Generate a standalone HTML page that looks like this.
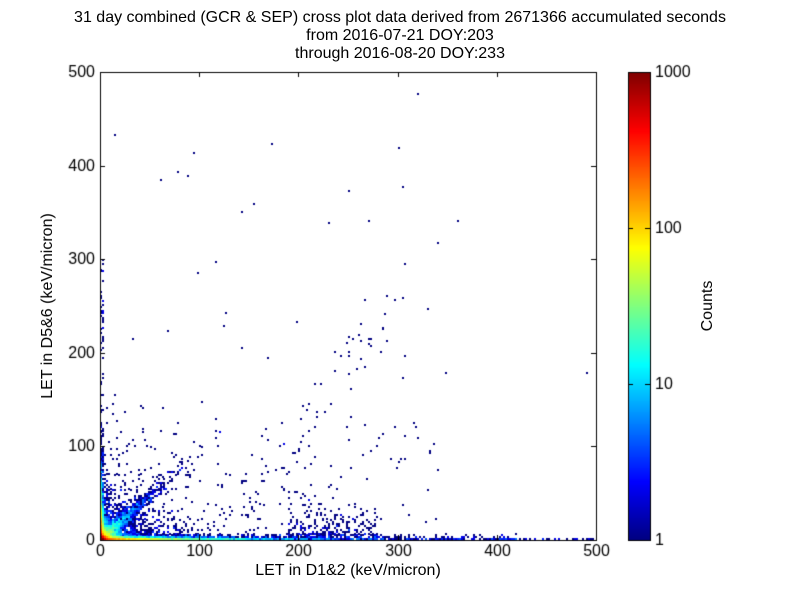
<!DOCTYPE html>
<html><head><meta charset="utf-8"><style>
body{margin:0;background:#fff;width:800px;height:600px;overflow:hidden;position:relative;font-family:"Liberation Sans",sans-serif;}
.t{position:absolute;font-size:16px;color:#000;white-space:nowrap;}
.c{transform:translateX(-50%);}
</style></head><body>
<div class="t c" style="left:400px;top:9px">31 day combined (GCR &amp; SEP) cross plot data derived from 2671366 accumulated seconds</div>
<div class="t c" style="left:400px;top:27px">from 2016-07-21 DOY:203</div>
<div class="t c" style="left:400px;top:45px">through 2016-08-20 DOY:233</div>
<canvas id="cv" width="800" height="600" style="position:absolute;left:0;top:0"></canvas>
<div class="t c" style="left:348px;top:562px">LET in D1&amp;2 (keV/micron)</div>
<div class="t" style="left:48px;top:306px;transform:translate(-50%,-50%) rotate(-90deg)">LET in D5&amp;6 (keV/micron)</div>
<div class="t" style="left:708px;top:306px;transform:translate(-50%,-50%) rotate(-90deg)">Counts</div>
<script>
const cv=document.getElementById('cv'),g=cv.getContext('2d');
const X0=100,X1=596,Y0=72,Y1=540;
function px(v){return X0+v*(X1-X0)/500}
function py(v){return Y1-v*(Y1-Y0)/500}
function jet(t){t=Math.max(0,Math.min(1,t));
 function f(x){return Math.max(0,Math.min(1,1.5-Math.abs(4*t-x)))}
 return 'rgb('+Math.round(255*f(3))+','+Math.round(255*f(2))+','+Math.round(255*f(1))+')';}
let s=12345;function r(){s=(s*1103515245+12345)&0x7fffffff;return s/0x7fffffff}
const bins={};const B=2;
function add(x,y,n){if(x<0||y<0||x>=500||y>=500)return;const k=Math.floor(x/B)+','+Math.floor(y/B);bins[k]=(bins[k]||0)+(n||1);}
function ex(m){return -Math.log(1-r()*0.999)*m}
// bottom row
for(let i=0;i<5000;i++){add(ex(50),ex(1.2));}
for(let i=0;i<500;i++){add(r()*420,ex(1.5));}
for(let i=0;i<40;i++){add(380+r()*120,r()*2);}
// left column
for(let i=0;i<3500;i++){add(ex(1.2),ex(18));}
for(let i=0;i<80;i++){add(r()*4,r()*300);}
// origin hot
for(let i=0;i<5000;i++){add(ex(1.5),ex(1.5));}
for(let i=0;i<3000;i++){add(ex(5),ex(5));}
// diagonal band
for(let i=0;i<1500;i++){let t=ex(18);add(t+(r()-0.5)*10,t*0.95+(r()-0.5)*10);}
for(let i=0;i<1200;i++){add(ex(20),ex(14));}
// cluster around 200-280
for(let i=0;i<300;i++){add(190+r()*90,ex(12));}
for(let i=0;i<70;i++){let t=r();add(140+t*150+(r()-0.5)*50,t*250+(r()-0.5)*40);}
// scattered
for(let i=0;i<250;i++){add(ex(80),ex(40));}
for(let i=0;i<120;i++){add(r()*350,r()*130);}
for(let i=0;i<25;i++){add(r()*350,150+r()*250);}
add(320,477);add(300,418);add(172,423);add(15,433);add(95,413);add(230,338);add(270,340);add(340,316);add(360,341);
for(const k in bins){const [a,b]=k.split(',').map(Number);const n=bins[k];
 g.fillStyle=jet(Math.log10(n)/3);
 const x=px(a*B),y=py((b+1)*B);g.fillRect(Math.round(x),Math.round(y),2,2);}
g.strokeStyle='#000';g.lineWidth=1;g.strokeRect(X0+0.5,Y0+0.5,X1-X0,Y1-Y0);
g.font='16px "Liberation Sans",sans-serif';g.fillStyle='#000';
for(let v=0;v<=500;v+=100){const x=Math.round(px(v))+0.5,y=Math.round(py(v))+0.5;
 g.beginPath();g.moveTo(x,Y1);g.lineTo(x,Y1-5);g.moveTo(x,Y0);g.lineTo(x,Y0+5);
 g.moveTo(X0,y);g.lineTo(X0+5,y);g.moveTo(X1,y);g.lineTo(X1-5,y);g.stroke();
 g.textAlign='center';g.textBaseline='top';g.fillText(v,x,544);
 g.textAlign='right';g.textBaseline='middle';g.fillText(v,95,y);}
const CX=628,CW=22;
for(let y=Y0;y<Y1;y++){g.fillStyle=jet((Y1-y)/(Y1-Y0));g.fillRect(CX,y,CW,1);}
g.strokeRect(CX+0.5,Y0+0.5,CW,Y1-Y0);
g.fillStyle='#000';g.textAlign='left';g.textBaseline='middle';
[[1,'1'],[10,'10'],[100,'100'],[1000,'1000']].forEach(([v,l])=>{const y=Math.round(Y1-Math.log10(v)/3*(Y1-Y0))+0.5;
 g.beginPath();g.moveTo(CX,y);g.lineTo(CX+5,y);g.moveTo(CX+CW,y);g.lineTo(CX+CW-5,y);g.stroke();
 g.fillText(l,655,y);});
</script>
</body></html>
